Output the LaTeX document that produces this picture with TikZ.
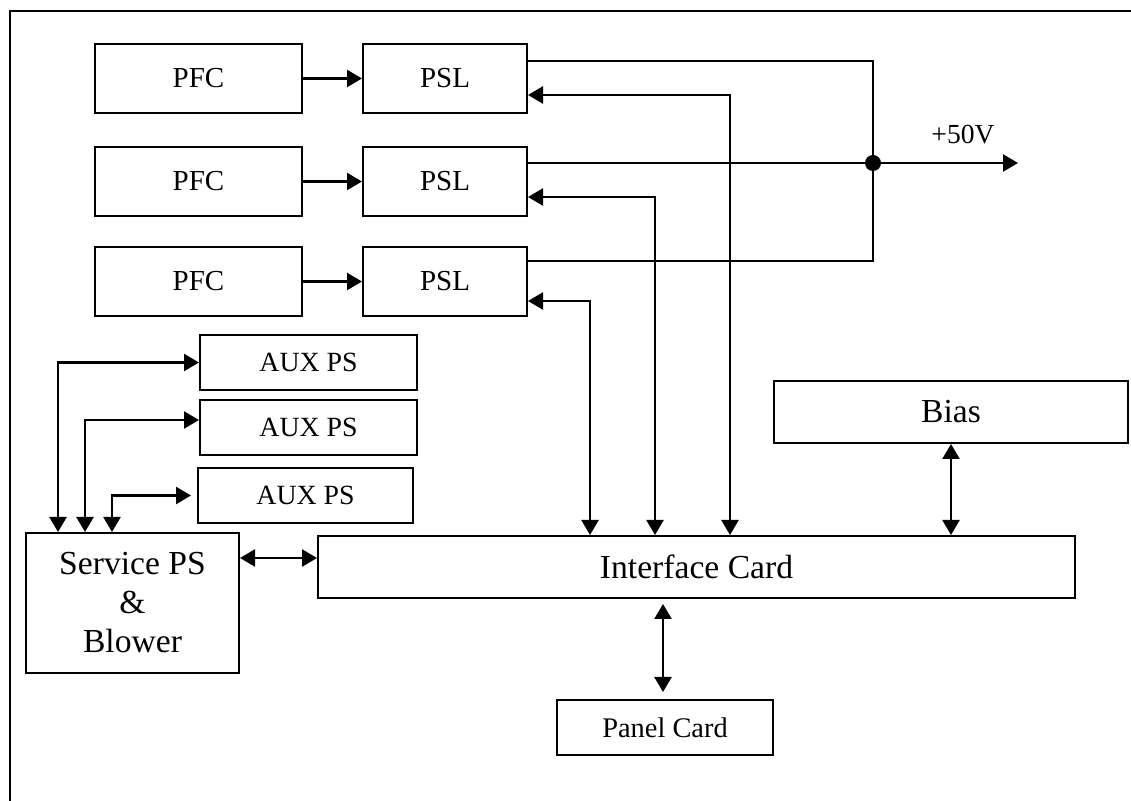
\documentclass[tikz,border=0pt]{standalone}
\usepackage{fontspec}
\setmainfont{Liberation Serif}
\usetikzlibrary{arrows.meta,calc}
\tikzset{
  blk/.style={draw, line width=1pt, inner sep=0pt, align=center},
  wire/.style={line width=1.2pt},
  arr/.style={wire, -{Triangle[length=7.5pt,width=8.5pt]}},
  biarr/.style={wire, {Triangle[length=7.5pt,width=8.5pt]}-{Triangle[length=7.5pt,width=8.5pt]}},
}
\begin{document}
\begin{tikzpicture}[x=0.5pt, y=-0.5pt]
    \useasboundingbox (0,0) rectangle (1131,801);
    \draw[line width=1.3pt] (1131,11) -- (10,11) -- (10,801);

    % power stages
    \node[blk, minimum width=103.5pt, minimum height=34.5pt, font=\fontsize{14.5}{17}\selectfont] (pfc1) at (198.5,78.5) {PFC};
    \node[blk, minimum width=103.5pt, minimum height=34.5pt, font=\fontsize{14.5}{17}\selectfont] (pfc2) at (198.5,181.5) {PFC};
    \node[blk, minimum width=103.5pt, minimum height=34.5pt, font=\fontsize{14.5}{17}\selectfont] (pfc3) at (198.5,281.5) {PFC};
    \node[blk, minimum width=82pt, minimum height=34.5pt, font=\fontsize{14.5}{17}\selectfont] (psl1) at (445,78.5) {PSL};
    \node[blk, minimum width=82pt, minimum height=34.5pt, font=\fontsize{14.5}{17}\selectfont] (psl2) at (445,181.5) {PSL};
    \node[blk, minimum width=82pt, minimum height=34.5pt, font=\fontsize{14.5}{17}\selectfont] (psl3) at (445,281.5) {PSL};

    \draw[arr] (pfc1) -- (psl1);
    \draw[arr] (pfc2) -- (psl2);
    \draw[arr] (pfc3) -- (psl3);

    % +50V bus
    \coordinate (jn) at (873,163);
    \coordinate (v50) at (1018,163);
    \draw[wire] ($(psl1.east)+(0,-17.5)$) -| (jn);
    \draw[wire] ($(psl3.east)+(0,-20.5)$) -| (jn);
    \draw[wire] ($(psl2.east)+(0,-18.5)$) -- (jn);
    \draw[arr] (jn) -- (v50);
    \fill (jn) circle (4pt);
    \node[font=\fontsize{13.8}{16}\selectfont] (lbl50) at (963,135) {+50V};

    % auxiliary supplies
    \node[blk, minimum width=108.5pt, minimum height=27.5pt, font=\fontsize{13.9}{16}\selectfont] (aux1) at (308.5,362.5) {AUX PS};
    \node[blk, minimum width=108.5pt, minimum height=27.5pt, font=\fontsize{13.9}{16}\selectfont] (aux2) at (308.5,427.5) {AUX PS};
    \node[blk, minimum width=107.5pt, minimum height=27.5pt, font=\fontsize{13.9}{16}\selectfont] (aux3) at (305.5,495.5) {AUX PS};
    \node[blk, minimum width=106.5pt, minimum height=70pt, font=\fontsize{16.8}{19.5}\selectfont] (svc) at (132.5,603) {Service PS\\\&\\Blower};

    \draw[biarr] ($(svc.north west)+(33,0)$) |- (aux1.west);
    \draw[biarr] ($(svc.north west)+(60,0)$) |- ($(aux2.west)+(0,-7.5)$);
    \draw[biarr] ($(svc.north west)+(87,0)$) |- ($(aux3.west)+(-6,0)$);

    % control
    \node[blk, minimum width=378.5pt, minimum height=31pt, font=\fontsize{16.8}{19}\selectfont] (iface) at (696.5,567) {Interface Card};
    \node[blk, minimum width=177pt, minimum height=31pt, font=\fontsize{16.8}{19}\selectfont] (bias) at (951,412) {Bias};
    \node[blk, minimum width=108pt, minimum height=27.5pt, font=\fontsize{14.2}{16}\selectfont] (panel) at (665,727.5) {Panel Card};

    \draw[biarr] ($(psl1.east)+(0,16.5)$) -| ($(iface.north west)+(413,0)$);
    \draw[biarr] ($(psl2.east)+(0,15.5)$) -| ($(iface.north west)+(338,0)$);
    \draw[biarr] ($(psl3.east)+(0,19.5)$) -| ($(iface.north west)+(273,0)$);

    \draw[biarr] ($(svc.east)+(0,-45)$) -- ($(iface.west)+(0,-9)$);
    \draw[biarr] (bias.south) -- (bias.south |- iface.north);
    \draw[biarr, shorten <=2.5pt, shorten >=3.5pt] ($(panel.north |- iface.south)+(-2,0)$) -- ($(panel.north)+(-2,0)$);
\end{tikzpicture}
\end{document}
